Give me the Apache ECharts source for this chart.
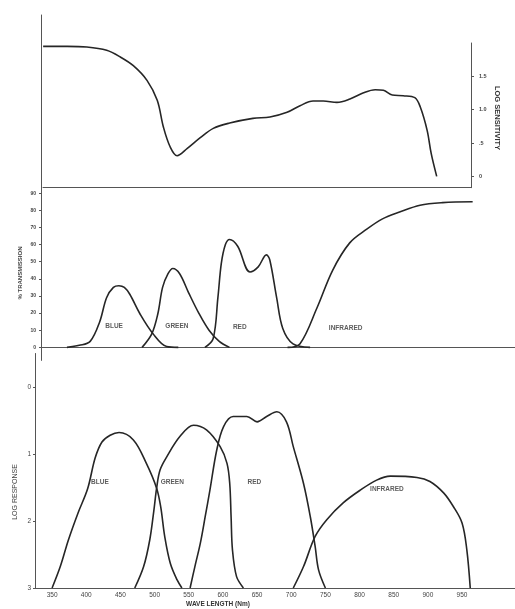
<!DOCTYPE html>
<html>
<head>
<meta charset="utf-8">
<script src="https://cdn.jsdelivr.net/npm/echarts@6/dist/echarts.min.js"></script>
<style>html,body{margin:0;padding:0;background:#fff;}#c{width:515px;height:609px;}</style>
</head>
<body>
<div id="c"></div>
<script>
// ---- tick labels ----
const wavelengthTicks = [350,400,450,500,550,600,650,700,750,800,850,900,950];
const responseTicks = [0,1,2,3];
const transmissionTicks = [0,10,20,30,40,50,60,70,80,90];
const sensitivityTicks = [0,0.5,1,1.5];
const sensitivityTickLabels = ['0','.5','1.0','1.5'];

// ---- top panel: log sensitivity ----
const sensNm  = [337,372,401,430,450,469,489,504,513,523,533,548,567,586,610,644,669,694,713,732,747,767,786,805,823,835,848,864,881,889,899,905,913];
const sensVal = [1.95,1.95,1.94,1.89,1.79,1.66,1.44,1.14,0.74,0.44,0.31,0.42,0.58,0.72,0.80,0.87,0.89,0.96,1.06,1.13,1.13,1.11,1.16,1.25,1.30,1.29,1.22,1.21,1.18,1.04,0.69,0.34,0.0];

// ---- middle panel: % transmission ----
const blueTNm  = [372,390,406,420,430,440,448,456,464,479,498,518,535];
const blueTVal = [0,1.2,3.5,15,29,35,36,35,31,19.5,8,0.5,0];
const greenTNm  = [482,496,505,512,520,527,537,550,565,580,595,610];
const greenTVal = [0,7.7,19.5,35,43,46,43,32,20,10,3.5,0];
const redTNm  = [574,586,593,598,604,610,622,640,652,664,669,679,688,703,728];
const redTVal = [0,5,29,49,60,63,59,44,47,54,51,29,11,2,0];
const irTNm  = [695,713,738,761,786,811,834,859,889,922,966];
const irTVal = [0,2,23,45,61,69,75,79,83,84.5,85];

// ---- bottom panel: log response ----
const blueRNm  = [350,362,374,388,402,413,423,435,448,469,488,503,509,515,523,533,540];
const blueRVal = [3,2.68,2.28,1.88,1.52,1.06,0.82,0.72,0.68,0.79,1.14,1.51,1.79,2.24,2.63,2.88,3];
const greenRNm  = [471,484,493,499,503,508,518,537,557,576,596,606,610,612,614,620,630];
const greenRVal = [3,2.68,2.28,1.84,1.51,1.24,1.04,0.74,0.57,0.64,0.89,1.14,1.44,1.94,2.43,2.83,3];
const redRNm  = [552,559,567,574,581,591,601,615,635,650,664,679,693,703,718,728,735,740,750];
const redRVal = [3,2.68,2.33,1.94,1.54,0.94,0.59,0.44,0.44,0.52,0.44,0.37,0.52,0.89,1.44,1.94,2.38,2.73,3];
const irRNm  = [703,718,735,752,776,801,825,845,884,903,923,937,950,957,962];
const irRVal = [3,2.68,2.23,1.98,1.73,1.54,1.39,1.33,1.35,1.41,1.58,1.78,2.03,2.43,3];

// ---- curve labels ----
const filterNames = ['BLUE','GREEN','RED','INFRARED'];
const transLabelNm  = [441,533,625,780];
const transLabelVal = [12.3,12.3,12.0,11.1];
const respLabelNm  = [420,526,646,840];
const respLabelVal = [1.42,1.42,1.42,1.52];

const pair = (xs, ys) => xs.map((x, i) => [x, ys[i]]);
const INK = '#262626';
const AX = '#555';
const TXT = '#444';
const FONT = 'Liberation Sans';

function curve(name, xs, ys, idx) {
  return {
    name, type: 'line', xAxisIndex: idx, yAxisIndex: idx,
    data: pair(xs, ys), smooth: 0.35, symbol: 'none',
    lineStyle: { color: INK, width: 1.6 }, z: 3, silent: true
  };
}
function labels(xs, ys, idx) {
  return {
    type: 'scatter', xAxisIndex: idx, yAxisIndex: idx, symbolSize: 0, silent: true,
    data: xs.map((x, i) => ({ value: [x, ys[i]], name: filterNames[i] })),
    label: { show: true, position: 'inside', formatter: p => p.name,
      color: '#333', fontSize: 6.5, fontWeight: 'bold', fontFamily: FONT }
  };
}

const chart = echarts.init(document.getElementById('c'), null, { renderer: 'canvas' });
chart.setOption({
  backgroundColor: '#ffffff',
  animation: false,
  grid: [
    { left: 43, top: 43, width: 428, height: 144.7 },   // top
    { left: 41, top: 15, width: 474, height: 345.4 },   // middle
    { left: 35, top: 353.5, width: 480, height: 234.5 } // bottom
  ],
  xAxis: [
    { type: 'value', gridIndex: 0, min: 336.8, max: 963.2,
      axisLine: { show: true, onZero: false, lineStyle: { color: AX, width: 1 } },
      axisTick: { show: false }, axisLabel: { show: false }, splitLine: { show: false } },
    { type: 'value', gridIndex: 1, min: 334, max: 1028,
      axisLine: { show: true, onZero: true, lineStyle: { color: AX, width: 1 } },
      axisTick: { show: false }, axisLabel: { show: false }, splitLine: { show: false } },
    { type: 'value', gridIndex: 2, min: 325, max: 1027.5,
      axisLine: { show: true, onZero: false, lineStyle: { color: AX, width: 1 } },
      axisTick: { show: false },
      axisLabel: { show: true, customValues: wavelengthTicks, margin: 4,
        color: TXT, fontSize: 6.5, fontFamily: FONT },
      splitLine: { show: false } }
  ],
  yAxis: [
    { type: 'value', gridIndex: 0, position: 'right', min: -0.17, max: 2.0,
      axisLine: { show: true, lineStyle: { color: AX, width: 1 } },
      axisTick: { show: true, customValues: sensitivityTicks, length: 3, lineStyle: { color: AX } },
      axisLabel: { show: true, customValues: sensitivityTicks, margin: 8,
        formatter: v => sensitivityTickLabels[sensitivityTicks.indexOf(v)],
        color: TXT, fontSize: 5.5, fontFamily: FONT, fontWeight: 'bold' },
      splitLine: { show: false } },
    { type: 'value', gridIndex: 1, min: -7.6, max: 194,
      axisLine: { show: true, lineStyle: { color: AX, width: 1 } },
      axisTick: { show: true, customValues: transmissionTicks, length: 2, lineStyle: { color: AX } },
      axisLabel: { show: true, customValues: transmissionTicks, margin: 5,
        color: TXT, fontSize: 5, fontFamily: FONT, fontWeight: 'bold' },
      splitLine: { show: false } },
    { type: 'value', gridIndex: 2, inverse: true, min: -0.5, max: 3,
      axisLine: { show: true, lineStyle: { color: AX, width: 1 } },
      axisTick: { show: true, customValues: responseTicks, length: 2, lineStyle: { color: AX } },
      axisLabel: { show: true, customValues: responseTicks, margin: 4,
        color: TXT, fontSize: 6.5, fontFamily: FONT },
      splitLine: { show: false } }
  ],
  series: [
    curve('Sensitivity', sensNm, sensVal, 0),
    curve('Blue T', blueTNm, blueTVal, 1),
    curve('Green T', greenTNm, greenTVal, 1),
    curve('Red T', redTNm, redTVal, 1),
    curve('Infrared T', irTNm, irTVal, 1),
    labels(transLabelNm, transLabelVal, 1),
    curve('Blue R', blueRNm, blueRVal, 2),
    curve('Green R', greenRNm, greenRVal, 2),
    curve('Red R', redRNm, redRVal, 2),
    curve('Infrared R', irRNm, irRVal, 2),
    labels(respLabelNm, respLabelVal, 2)
  ],
  graphic: [
    { type: 'text', x: 20, y: 273, rotation: Math.PI / 2,
      style: { text: '% TRANSMISSION', fill: TXT, font: 'bold 6px "Liberation Sans"', align: 'center', verticalAlign: 'middle' } },
    { type: 'text', x: 15, y: 492, rotation: Math.PI / 2,
      style: { text: 'LOG RESPONSE', fill: TXT, font: '7px "Liberation Sans"', align: 'center', verticalAlign: 'middle' } },
    { type: 'text', x: 497, y: 118, rotation: -Math.PI / 2,
      style: { text: 'LOG SENSITIVITY', fill: '#333', font: 'bold 7.5px "Liberation Sans"', align: 'center', verticalAlign: 'middle' } },
    { type: 'text', x: 218, y: 604,
      style: { text: 'WAVE LENGTH (Nm)', fill: '#333', font: 'bold 6.5px "Liberation Sans"', align: 'center', verticalAlign: 'middle' } }
  ]
});
</script>
</body>
</html>
